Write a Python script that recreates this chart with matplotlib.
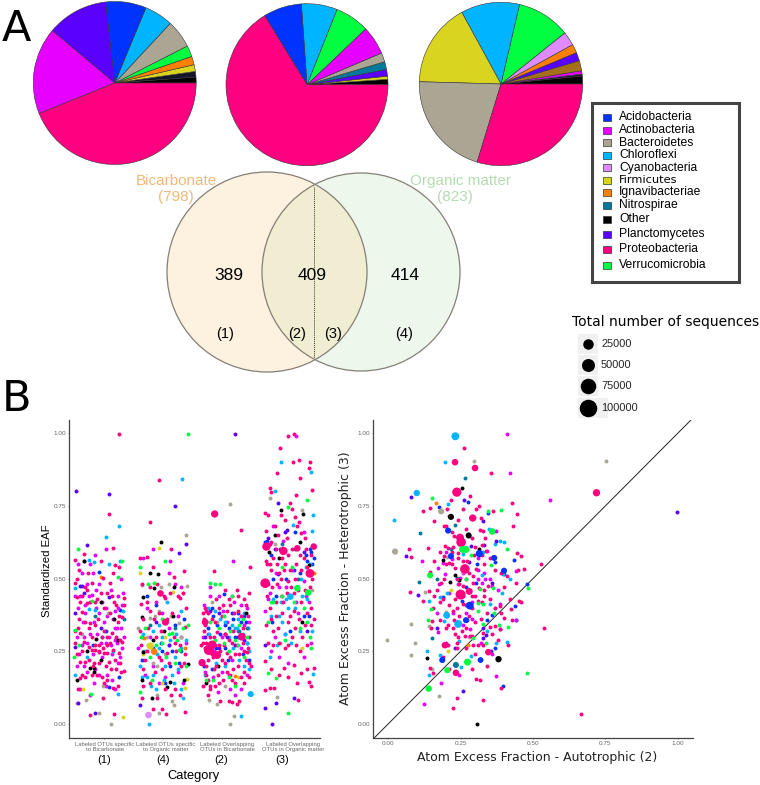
import matplotlib
matplotlib.use("Agg")
import matplotlib.pyplot as plt
from matplotlib.patches import Circle, Rectangle

plt.rcParams['font.family'] = ['Liberation Sans', 'DejaVu Sans']

W, H = 760, 785

phyla = ["Acidobacteria", "Actinobacteria", "Bacteroidetes", "Chloroflexi", "Cyanobacteria", "Firmicutes",
         "Ignavibacteriae", "Nitrospirae", "Other", "Planctomycetes", "Proteobacteria", "Verrucomicrobia"]
colors = ["#0033ff", "#e500ff", "#aaa693", "#00b4ff", "#e08aff", "#d8d420",
          "#ff7f00", "#007a99", "#000000", "#5a00ff", "#ff0080", "#00ff40"]

# pies, degrees counter clockwise from 3 o'clock
pie1_cols = ["#000000", "#14142a", "#d8d420", "#ff7f00", "#00ff40", "#aaa693",
             "#00b4ff", "#0033ff", "#5a00ff", "#e500ff", "#ff0080"]
pie1_vals = [4.2, 4.0, 4.8, 6.0, 8.0, 20.0, 20.5, 29.0, 43.5, 62.0, 158.0]
pie2_cols = ["#000000", "#d8d420", "#5a00ff", "#007a99", "#aaa693", "#e500ff",
             "#00ff40", "#00b4ff", "#0033ff", "#ff0080"]
pie2_vals = [3.8, 2.3, 4.8, 5.6, 6.5, 20.6, 24.7, 25.7, 27.5, 238.5]
pie3_cols = ["#000000", "#14142a", "#e500ff", "#a5701a", "#5a00ff", "#ff7f00",
             "#e08aff", "#00ff40", "#00b4ff", "#d8d420", "#aaa693", "#ff0080"]
pie3_vals = [5.6, 1.4, 2.4, 7.2, 6.0, 6.2, 9.9, 38.2, 41.8, 59.7, 74.6, 107.0]

venn_counts = ["389", "409", "414"]
venn_regions = ["(1)", "(2)", "(3)", "(4)"]

size_legend = [25000, 50000, 75000, 100000]

cat_ticks = [1.08, 2.01, 2.95, 4.01]
cat_labels = ["Labeled OTUs specific\nto Bicarbonate", "Labeled OTUs specific\nto Organic matter",
              "Labeled Overlapping\nOTUs in Bicarbonate", "Labeled Overlapping\nOTUs in Organic matter"]
cat_codes = ["(1)", "(4)", "(2)", "(3)"]

# left panel, (category + jitter, standardized EAF)
l_proteo = [(1.32,.998),(1.15,.722),(1.21,.604),(.76,.585),(.62,.564),(1.25,.547),(1.31,.541),(.61,.484),(.88,.484),
    (1.06,.501),(1.17,.486),(.65,.438),(.8,.417),(1.23,.421),(1.39,.432),(1.39,.409),(.72,.386),(1.08,.398),(1.17,.381),
    (1.36,.369),(1.3,.35),(.62,.32),(.7,.312),(.86,.346),(.94,.341),(1.08,.321),(1.12,.3),(1.2,.312),(1.36,.283),(.62,.278),
    (.75,.283),(.83,.265),(.88,.255),(.94,.255),(.99,.249),(1.08,.243),(1.22,.255),(1.12,.243),(1.31,.243),(.7,.214),(.78,.214),
    (1.15,.214),(1.33,.209),(1.4,.183),(.72,.169),(.7,.157),(1.04,.163),(1.13,.151),(1.21,.123),(.66,.119),(1.06,.088),(.86,.032),
    (1.23,.033),(.98,.36),(1.05,.3),(.9,.2),(.97,.17),(1.27,.19),(.8,.46),(.68,.36),(1.0,.27),
    (.64,.5),(.7,.42),(.72,.44),(.78,.47),(.82,.52),(.86,.42),(.93,.42),(.97,.43),(1.03,.45),(1.12,.45),(1.2,.44),(1.27,.41),(1.32,.37),
    (.66,.33),(.78,.35),(.83,.33),(.88,.3),(.93,.27),(1.0,.25),(1.06,.26),(1.13,.27),(1.17,.28),(1.27,.3),(1.33,.29),(.64,.24),(.73,.25),
    (.84,.22),(.92,.21),(1.0,.21),(1.1,.2),(1.18,.19),(1.25,.22),(1.35,.18),(.78,.16),(.88,.17),(1.08,.14),(1.3,.13),(.68,.53),(1.02,.56),(1.22,.52),
    (1.94,.839),(1.8,.696),(2.13,.601),(1.64,.572),(1.75,.573),(1.85,.541),(2.34,.527),(2.18,.507),(1.97,.449),(1.66,.412),
    (2.05,.432),(2.37,.398),(1.81,.39),(1.94,.381),(2.05,.35),(2.36,.335),(1.64,.321),(2.07,.243),(1.85,.05),(2.06,.034),
    (2.36,.042),(1.75,.42),(2.28,.432),(1.9,.3),(2.2,.28),(1.72,.22),(2.0,.19),(2.3,.2),(2.15,.38),(1.7,.13),(2.2,.12),(1.95,.23),
    (1.68,.48),(1.8,.47),(1.92,.48),(2.02,.44),(2.12,.45),(2.25,.44),(2.33,.45),(1.7,.36),(1.78,.33),(1.86,.36),(1.98,.32),(2.08,.36),
    (2.18,.3),(2.28,.27),(2.36,.24),(1.66,.27),(1.76,.25),(1.88,.18),(1.98,.22),(2.1,.21),(2.22,.25),(2.34,.21),(1.7,.19),(1.8,.14),
    (1.92,.09),(2.05,.12),(2.14,.1),(2.28,.1),(1.68,.09),(2.0,.05),
    (2.83,.722),(3.24,.667),(2.82,.527),(3.39,.541),(2.74,.255),(2.63,.211),(2.68,.35),(2.87,.237),(2.87,.318),(3.26,.3),(3.03,.243),
    (3.34,.249),(2.79,.272),(2.7,.28),(2.65,.28),(2.66,.32),(2.8,.23),(2.9,.27),(2.95,.22),(3.0,.31),(3.1,.28),(3.15,.24),(3.2,.2),
    (3.3,.25),(3.38,.3),(3.38,.21),(2.7,.39),(2.68,.34),(2.75,.13),(2.72,.15),(2.92,.08),(3.05,.08),(3.18,.07),(3.1,.15),(3.3,.14),
    (2.9,.14),(3.2,.44),(3.3,.43),(3.38,.45),(3.08,.41),(2.95,.37),(2.82,.3),(3.12,.19),(3.25,.37),(2.7,.2),(2.85,.43),
    (2.66,.36),(2.72,.38),(2.78,.36),(2.84,.35),(2.9,.4),(2.96,.41),(3.02,.39),(3.06,.43),(3.14,.38),(3.2,.39),(3.28,.33),(3.32,.41),
    (3.36,.37),(2.62,.27),(2.67,.26),(2.72,.22),(2.76,.3),(2.78,.24),(2.83,.27),(2.85,.2),(2.92,.25),(2.98,.27),(3.0,.21),(3.05,.29),
    (3.08,.23),(3.12,.32),(3.18,.27),(3.22,.24),(3.28,.28),(3.32,.22),(3.36,.26),(3.4,.2),(2.65,.13),(2.7,.17),(2.76,.12),(2.82,.19),
    (2.88,.17),(2.96,.15),(3.02,.18),(3.08,.17),(3.16,.14),(3.24,.16),(3.3,.18),(3.38,.16),(2.72,.1),(2.84,.13),(3.1,.075),(3.22,.08),
    (3.0,.46),(3.18,.46),(2.64,.38),(2.68,.4),
    (4.08,.998),(4,.989),(3.87,.948),(4.07,.902),(4.16,.906),(4.34,.9),(4.32,.88),(3.82,.862),(4.19,.847),(4.38,.803),(3.7,.811),
    (3.72,.796),(4.12,.786),(3.62,.725),(3.68,.719),(4.06,.738),(4.1,.713),(3.95,.7),(3.78,.68),(4.17,.696),(3.65,.662),(4.2,.656),
    (3.65,.61),(3.72,.624),(3.92,.595),(4.4,.61),(4.14,.604),(3.63,.218),(3.71,.123),(3.77,.125),(3.62,.117),(4.32,.143),(4.36,.131),
    (4.4,.192),(3.93,.192),(4.08,.203),(4.2,.174),(4.15,.083),(3.63,.484),(4.34,.518),(3.93,.53),(3.85,.52),(4.0,.49),(4.1,.5),
    (4.2,.53),(4.28,.6),(4.35,.58),(4.38,.5),(3.7,.55),(3.66,.55),(3.8,.6),(3.9,.57),(4.0,.58),(4.08,.45),(4.2,.42),(4.3,.38),
    (3.7,.4),(3.8,.37),(3.9,.38),(4.0,.35),(4.1,.33),(4.22,.3),(4.35,.34),(3.65,.34),(3.75,.32),(3.85,.28),(4.0,.27),(4.12,.27),(3.8,.42),
    (3.65,.56),(3.72,.53),(3.76,.57),(3.82,.55),(3.88,.5),(3.95,.55),(4.02,.53),(4.06,.6),(4.12,.55),(4.18,.58),(4.24,.57),(4.3,.54),
    (4.34,.47),(3.68,.48),(3.74,.47),(3.82,.48),(3.9,.44),(3.98,.45),(4.04,.47),(4.15,.46),(4.26,.46),(3.66,.44),(3.73,.36),(3.83,.33),
    (3.92,.42),(4.02,.37),(4.08,.39),(4.17,.36),(4.26,.34),(4.36,.4),(4.4,.36),(3.67,.28),(3.76,.27),(3.95,.26),(4.06,.3),(4.18,.25),
    (4.3,.27),(3.72,.19),(3.85,.17),(4.0,.16),(4.14,.14),(4.3,.19),(3.7,.62),(3.84,.65),(3.98,.64),(4.14,.68),(4.26,.64),(3.88,.72),(4.02,.76)]
l_actino = [(.8,.48),(.76,.56),(.9,.52),(1.0,.48),(1.1,.6),(.88,.444),(.78,.41),(.95,.4),(1.1,.4),(1.25,.39),(1.3,.44),(.67,.4),
    (.74,.35),(.85,.31),(1.02,.28),(1.15,.3),(1.25,.29),(1.35,.33),(.68,.24),(.75,.3),(.9,.24),(1.05,.23),(1.2,.24),(1.28,.28),
    (.65,.2),(.8,.18),(1.0,.17),(1.2,.15),(1.3,.21),(.7,.12),(.85,.1),(1.1,.13),(1.28,.33),(1.36,.26),(.95,.46),(1.18,.46),
    (1.34,.5),(.92,.35),(1.07,.35),(.62,.44),(1.36,.41),(1.25,.33),
    (.66,.55),(.73,.52),(.86,.55),(.93,.58),(.69,.44),(.77,.38),(.84,.44),(1.0,.38),(1.04,.42),(1.13,.37),(1.22,.36),(1.3,.4),(1.38,.45),
    (.65,.3),(.8,.28),(.96,.31),(1.1,.28),(1.18,.27),(1.33,.23),(.76,.2),(.94,.19),(1.12,.17),(1.25,.12),(.92,.14),(.72,.27),(1.4,.3),
    (1.7,.57),(1.85,.6),(2.1,.52),(2.2,.48),(2.3,.47),(1.75,.4),(1.9,.42),(2.0,.38),(2.1,.33),(2.25,.37),(1.68,.3),(1.8,.3),
    (2.3,.3),(2.38,.28),(1.72,.17),(1.85,.2),(2.25,.18),(2.05,.16),(2.12,.562),(1.62,.26),(1.95,.14),(2.32,.14),
    (2.75,.47),(2.9,.44),(3.1,.44),(3.12,.562),(3.25,.41),(3.35,.4),(2.72,.31),(2.95,.3),(3.2,.32),(3.38,.35),(2.66,.41),(3.02,.35),
    (2.8,.16),(3.05,.17),(3.25,.12),(3.35,.17),(3.15,.1),(2.68,.18),
    (2.76,.44),(2.96,.39),(3.14,.42),(3.3,.34),(2.82,.25),(2.94,.18),(3.1,.22),(3.24,.26),(2.64,.3),(2.88,.11),(3.08,.12),
    (4.12,.991),(3.75,.68),(3.85,.47),(4.05,.53),(4.25,.49),(4.32,.42),(3.68,.43),(3.78,.3),(3.95,.31),(4.15,.38),(4.36,.28),
    (3.62,.39),(4.0,.21),(4.25,.23),(3.72,.25),(3.85,.23),(3.7,.45),(3.96,.47),(4.12,.42),(4.28,.44),(3.8,.52),(3.92,.63),(4.24,.66)]
l_bacter = [(1.06,.131),(.79,.083),(.65,.071),(.99,.037),(1.19,0),(.72,.31),(1.14,.38),(2.37,.649),(2.39,.475),(1.67,.478),(1.8,.364),
    (2.26,.346),(2.19,.065),(2.15,.08),(1.91,.1),(1.94,.037),(2.1,.48),(1.95,.39),(2.3,.3),(1.85,.21),
    (1.76,.3),(1.92,.2),(1.7,.25),(2.14,.37),(2.32,.45),(2.04,.24),(1.62,.33),(1.88,.37),(1.98,.47),
    (3.08,.756),(3.07,0),(3.13,.028),(2.74,.083),(2.86,.069),(3.0,.13),(2.86,.35),(2.78,.42),(3.79,.619),(3.71,.776),(4.22,.734),
    (3.82,.094),(3.88,.44),(4.38,.46),(3.86,.28)]
l_chloro = [(1.31,.679),(1.1,.643),(.84,.564),(.91,.558),(1.16,.55),(1.33,.562),(.62,.467),(.83,.395),(.94,.392),(.62,.169),(1.3,.103),
    (1.05,.3),(.8,.23),(1.22,.25),(1.37,.39),(2.31,.842),(1.64,.2),(1.85,.169),(1.79,0),(2.33,.09),(2.0,.3),(1.8,.27),(2.2,.23),(1.95,.26),
    (1.75,.16),(2.15,.17),(2.3,.39),(2.1,.27),(1.9,.12),(2.25,.19),(2.38,.29),
    (1.7,.31),(1.78,.27),(1.85,.32),(1.92,.24),(2.04,.2),(2.12,.29),(2.22,.31),(2.3,.26),(1.72,.25),(1.68,.16),(1.82,.13),(2.02,.15),
    (2.18,.14),(2.3,.12),(1.95,.34),(2.08,.42),
    (2.72,.4),(3.4,.103),(3.24,.028),(3.0,.35),(3.15,.33),(3.3,.38),(2.85,.21),(3.35,.28),(3.05,.3),(3.2,.36),(3.38,.19),
    (2.74,.31),(2.84,.39),(2.92,.36),(3.1,.34),(3.18,.33),(3.28,.31),(3.36,.33),(2.78,.24),(3.0,.2),(3.22,.22),(3.3,.2),(2.68,.17),(3.12,.26),(3.38,.25),
    (3.88,.9),(4.36,.865),(3.79,.8),(4.39,.72),(4.38,.665),(4.07,.685),(4.39,.172),(4.03,.438),(3.85,.37),(4.0,.4),(4.2,.5),(3.9,.35),(4.38,.32),(3.7,.23),
    (3.76,.43),(3.88,.42),(3.96,.43),(4.1,.4),(4.22,.44),(4.3,.43),(3.72,.37),(3.94,.31),(4.04,.28),(4.18,.32),(3.82,.27),(4.34,.55),(4.28,.54)]
l_cyano = [(1.78,.031)]
l_firm = [(.74,.119),(1.37,.025),(1.94,.604),(1.65,.518),(2.17,.455),(1.81,.268),(1.99,.14),(2.39,.154),(2.36,.123),(1.7,.24),(2.05,.3),
    (3.2,.16),(4.22,.26)]
l_ignavi = [(1.02,.507),(1.71,.295),(1.87,.249),(2.36,.26),(3.15,.165),(4.4,.52)]
l_nitro = [(.93,.37),(1.4,.36),(2.2,.33),(2.3,.25),(1.8,.34),(3.22,.32),(3.35,.33),(3.9,.62),(4.15,.5),(4.1,.6)]
l_other = [(.75,.561),(1.02,.421),(1.24,.361),(1.29,.289),(.95,.291),(.81,.251),(1.03,.22),(.85,.194),(.91,.192),(.91,.178),(.65,.151),
    (1.81,.518),(1.93,.516),(1.87,.467),(2.19,.472),(1.7,.438),(1.98,.626),(1.67,.369),(2.17,.372),(1.85,.289),(2.02,.321),(1.7,.249),
    (1.67,.151),(2.08,.128),(2.12,.146),(2.34,.151),(2.4,.205),(1.84,.088),(3.33,.383),(3.0,.31),(2.7,.14),(2.88,.2),(3.88,.734),(4.23,.722),
    (3.79,.65),(4.18,.627),(3.69,.591),(4.33,.547),(4.22,.352),(3.85,.57)]
l_plancto = [(.63,.8),(1.16,.79),(.80,.614),(.69,.476),(.72,.476),(.75,.45),(1.15,.438),(.62,.381),(1.02,.329),(.61,.264),(.94,.037),(.66,.073),
    (2.2,.748),(2.38,.618),(2.27,.589),(1.65,.065),(2.1,.27),(1.9,.35),(3.15,.998),(2.9,.38),(3.3,.29),(2.68,.3),(2.76,.39),(2.9,.26),(3.02,.3),
    (3.16,.27),(3.62,.056),(3.74,0),(4.08,.091),(3.81,.071),(3.83,.759),(3.98,.668),(3.62,.27),(3.68,.64),(3.78,.6),(3.94,.66),(4.24,.59),(4.3,.32)]
l_acido = [(.99,.524),(1.32,.163),(1.33,.392),(1.15,.128),(1.1,.32),(.9,.27),(2.0,.25),(1.75,.44),(2.2,.34),(2.12,.2),
    (1.68,.22),(1.85,.26),(1.98,.28),(2.16,.25),(2.34,.36),(2.26,.21),(2.04,.14),(1.9,.41),
    (2.97,.446),(2.78,.398),(3.0,.34),(3.12,.36),(3.25,.35),(2.7,.25),(3.34,.28),(2.85,.26),(3.15,.3),(3.38,.22),
    (2.72,.33),(2.8,.37),(2.86,.34),(2.92,.31),(3.0,.26),(3.06,.33),(3.1,.38),(3.2,.3),(3.28,.24),(3.32,.35),(2.78,.19),(2.66,.2),(3.04,.22),(3.2,.38),(3.3,.37),
    (3.63,.627),(3.83,.516),(4.36,.59),(4.3,.56),(4.1,.66),(3.8,.44),(4.32,.37),(3.76,.5),(4.38,.55),
    (3.72,.58),(3.86,.6),(3.96,.5),(4.08,.53),(4.28,.58),(4.34,.6),(4.4,.57),(3.74,.35),(4.24,.37),(4.02,.32),(3.66,.63),(4.18,.52)]
l_verruco = [(.67,.602),(1.36,.561),(1.29,.507),(.88,.423),(.62,.323),(.68,.272),(.6,.229),(.87,.103),(1.65,.541),(2.05,.561),(1.64,.111),
    (1.87,.484),(2.15,.312),(2.26,.255),(2.4,.34),(2.4,.998),(1.8,.23),(2.0,.36),(2.37,.2),
    (1.72,.33),(1.9,.27),(2.0,.28),(2.1,.31),(2.24,.29),(2.32,.33),(1.84,.15),(2.06,.23),(1.66,.3),(1.78,.48),(2.2,.21),
    (2.75,.484),(2.83,.482),(2.92,.482),(2.75,.27),(3.1,.44),(2.98,.37),(3.05,.25),(3.2,.27),(2.8,.15),(3.15,.13),(3.35,.3),
    (2.76,.35),(2.9,.33),(2.98,.28),(3.08,.32),(3.22,.34),(3.28,.36),(2.84,.29),(2.76,.28),(3.16,.29),(2.7,.15),(3.05,.16),(3.3,.23),
    (4.0,.745),(4.3,.77),(4.0,.037),(3.67,.174),(3.81,.157),(4.14,.467),(4.31,.452),(3.72,.42),(4.25,.4),(4.35,.26),(3.95,.29),
    (3.68,.35),(3.76,.42),(3.9,.44),(4.08,.42),(4.18,.33),(4.34,.3),(4.3,.35),(3.9,.54),(4.05,.54)]

# a few larger OTUs, sequence count in thousands
l_big_x = [2.74, 2.79, 2.63, 2.68, 2.87, 3.26, 2.83, 3.63, 4.34, 3.65, 3.92, 4.14, 4.4, 2.05, 1.97, 4.14, 4.31, 4.03, 1.81, 1.87, 3.4, 1.78]
l_big_y = [.255, .272, .211, .35, .237, .3, .722, .484, .518, .61, .595, .604, .61, .35, .449, .467, .452, .438, .268, .249, .103, .031]
l_big_n = [60, 40, 25, 20, 30, 30, 25, 50, 40, 35, 35, 18, 18, 22, 18, 18, 18, 18, 25, 18, 14, 18]
l_big_phylum = ["Proteobacteria"] * 15 + ["Verrucomicrobia"] * 2 + ["Chloroflexi", "Firmicutes", "Ignavibacteriae", "Chloroflexi", "Cyanobacteria"]

# right panel, (autotrophic, heterotrophic)
r_proteo = [(.262,.948),(.355,.863),(.119,.731),(.145,.742),(.202,.739),(.16,.699),(.194,.68),(.2,.682),(.21,.716),(.281,.785),(.429,.76),
    (.445,.721),(.432,.68),(.315,.748),(.305,.739),(.363,.733),(.32,.707),(.336,.641),(.317,.668),(.328,.665),(.228,.645),(.137,.605),
    (.071,.6),(.079,.573),(.196,.611),(.208,.605),(.225,.607),(.193,.577),(.211,.554),(.219,.551),(.231,.537),(.242,.588),(.271,.56),
    (.296,.582),(.294,.508),(.305,.534),(.323,.617),(.338,.594),(.325,.582),(.445,.588),(.458,.579),(.47,.534),(.447,.531),(.44,.485),
    (.526,.551),(.452,.422),(.46,.42),(.424,.396),(.386,.407),(.537,.331),(.4,.365),(.389,.382),(.426,.356),(.351,.334),(.369,.336),
    (.386,.325),(.328,.313),(.265,.302),(.288,.302),(.256,.319),(.225,.331),(.208,.339),(.156,.399),(.142,.456),(.145,.523),(.076,.454),
    (.119,.422),(.239,.399),(.225,.39),(.258,.411),(.288,.439),(.311,.424),(.323,.419),(.331,.439),(.346,.474),(.315,.468),(.294,.485),
    (.257,.474),(.237,.497),(.246,.482),(.193,.5),(.183,.485),(.228,.359),(.246,.371),(.28,.371),(.271,.359),(.179,.359),(.153,.354),
    (.147,.331),(.208,.273),(.239,.277),(.239,.262),(.282,.302),(.294,.273),(.311,.272),(.326,.27),(.414,.271),(.144,.193),(.156,.176),
    (.305,.156),(.317,.151),(.391,.125),(.239,.089),(.225,.055),(.328,.082),(.664,.035),(.217,.771),
    (.17,.46),(.19,.43),(.21,.41),(.23,.43),(.26,.44),(.27,.41),(.29,.4),(.3,.44),(.33,.46),(.35,.43),(.37,.4),(.28,.52),(.26,.56),(.24,.57),
    (.22,.59),(.2,.55),(.18,.59),(.16,.56),(.3,.61),(.33,.55),(.35,.57),(.37,.53),(.39,.52),(.41,.51),(.29,.64),(.27,.67),(.24,.7),(.22,.66),
    (.26,.74),(.18,.42),(.16,.44),(.2,.33),(.23,.31),(.27,.33),(.3,.35),(.32,.36),(.34,.38),(.36,.31),(.24,.3),(.27,.26),(.3,.24),(.19,.23),
    (.21,.19),(.29,.19),(.34,.2),(.38,.29),(.42,.43),(.4,.47)]
r_actino = [(.409,.997),(.42,.863),(.56,.769),(.116,.562),(.171,.537),(.219,.568),(.191,.554),(.196,.514),(.257,.519),(.336,.497),(.323,.485),
    (.36,.474),(.372,.665),(.443,.527),(.248,.502),(.441,.357),(.171,.317),(.282,.327),(.289,.362),(.223,.382),(.204,.371),(.386,.327),
    (.374,.165),(.181,.142),(.124,.07),(.245,.169),(.177,.483),(.386,.411),(.343,.596),
    (.21,.45),(.24,.48),(.27,.5),(.31,.5),(.33,.52),(.35,.5),(.38,.46),(.2,.59),(.25,.62),(.31,.57),(.17,.38),(.2,.28),(.26,.34),(.32,.28),
    (.36,.24),(.29,.42),(.27,.38),(.31,.53)]
r_bacter = [(.297,.904),(.753,.903),(.183,.731),(.024,.593),(.202,.574),(.129,.455),(-.005,.288),(.078,.344),(.094,.279),(.079,.238),
    (.141,.336),(.15,.19),(.176,.096),(.2,.384)]
r_chloro = [(.197,.9),(.022,.701),(.208,.756),(.259,.586),(.328,.592),(.323,.511),(.386,.628),(.4,.625),(.349,.67),(.369,.62),(.397,.514),
    (.42,.497),(.394,.451),(.179,.436),(.204,.451),(.142,.423),(.351,.411),(.369,.399),(.193,.355),(.34,.319),(.246,.285),(.371,.279),
    (.412,.283),(.134,.252),(.179,.236),(.141,.17),(.25,.196),(.287,.233)]
r_cyano = [(.257,.522),(.28,.3)]
r_firm = [(.216,.459),(.208,.252)]
r_ignavi = [(.164,.761),(.277,.271)]
r_nitro = [(.265,.847),(.231,.683),(.218,.6),(.11,.657),(.108,.489),(.17,.5),(.153,.294),(.237,.502)]
r_other = [(.256,.81),(.313,.6),(.191,.565),(.231,.513),(.246,.494),(.214,.487),(.135,.227),(.308,0)]
r_plancto = [(.079,.779),(.997,.729),(.062,.579),(.102,.445),(.261,.769),(.328,.699),(.374,.628),(.331,.617),(.286,.611),(.28,.556),(.357,.485),
    (.328,.331),(.338,.305),(.328,.296),(.231,.261),(.17,.331),(.259,.113)]
r_acido = [(.177,.745),(.277,.762),(.346,.725),(.308,.551),(.369,.556),(.435,.565),(.4,.514),(.302,.485),(.48,.482),(.36,.376),(.34,.356),
    (.443,.359),(.437,.407),(.369,.26),(.354,.251),(.395,.13),(.191,.436),(.254,.424),(.269,.47)]
r_verruco = [(.15,.776),(.346,.731),(.389,.735),(.412,.6),(.285,.582),(.354,.548),(.269,.497),(.363,.468),(.483,.466),(.318,.465),(.31,.416),
    (.326,.413),(.31,.39),(.366,.382),(.147,.394),(.137,.359),(.414,.334),(.382,.34),(.328,.343),(.338,.279),(.294,.296),(.478,.176)]

r_big_x = [.719, .231, .3, .292, .237, .248, .252, .265, .25, .28, .234, .196, .346,
           .232, .099, .242, .202, .187, .207, .217, .315, .366, .4, .282, .269, .319,
           .257, .269, .359, .145, .274, .204, .14, .183, .024, .217, .278, .381, .234]
r_big_y = [.795, .9, .88, .708, .797, .641, .625, .533, .445, .456, .176, .271, .247,
           .989, .794, .344, .374, .22, .665, .577, .586, .571, .527, .407, .357, .22,
           .6, .6, .662, .511, .213, .185, .122, .731, .593, .712, .648, .223, .203]
r_big_n = [25, 18, 18, 25, 45, 30, 50, 50, 55, 22, 18, 18, 18,
           30, 16, 30, 20, 14, 14, 14, 25, 14, 14, 30, 14, 12,
           22, 22, 18, 14, 22, 14, 18, 14, 14, 14, 14, 16, 14]
r_big_phylum = ["Proteobacteria"] * 13 + ["Chloroflexi"] * 4 + ["Acidobacteria"] * 9 + ["Verrucomicrobia"] * 7 \
    + ["Bacteroidetes"] * 2 + ["Other"] * 3 + ["Nitrospirae"]


def px_axes(x0, y0, x1, y1, **kw):
    return fig.add_axes([x0 / W, 1 - y1 / H, (x1 - x0) / W, (y1 - y0) / H], **kw)


def dot_size(n):
    return 8 + 0.8 * n


def draw_pie(cx, cy, r, cols, vals):
    ax = px_axes(cx - r, cy - r, cx + r, cy + r)
    ax.pie(vals, colors=cols, startangle=0, counterclock=True, radius=1,
           wedgeprops=dict(edgecolor="#333333", linewidth=0.4))
    ax.set_xlim(-1, 1)
    ax.set_ylim(-1, 1)
    ax.set_aspect("equal")
    ax.patch.set_alpha(0)


def style_axes(ax):
    for s in ["top", "right"]:
        ax.spines[s].set_visible(False)
    for s in ["left", "bottom"]:
        ax.spines[s].set_color("#444444")
        ax.spines[s].set_linewidth(0.9)
    ax.tick_params(length=1, width=0.5, color="#555555", labelsize=4.6, labelcolor="#666666", pad=1)
    ax.set_yticks([0, 0.25, 0.5, 0.75, 1.0])
    ax.set_yticklabels(["0.00", "0.25", "0.50", "0.75", "1.00"])


def scatter_group(ax, group, big_x, big_y, big_n, big_phylum):
    for name, pts in group:
        xs = [p[0] for p in pts]
        ys = [p[1] for p in pts]
        ax.scatter(xs, ys, s=8, color=colors[phyla.index(name)], linewidths=0, zorder=3)
    ax.scatter(big_x, big_y, s=[dot_size(n) for n in big_n], color=[colors[phyla.index(n)] for n in big_phylum],
               linewidths=0, zorder=4)


fig = plt.figure(figsize=(W / 100, H / 100), dpi=100)

# overlay in pixel units for the venn and the hand made legends
bg = fig.add_axes([0, 0, 1, 1])
bg.set_xlim(0, W)
bg.set_ylim(H, 0)
bg.axis("off")

draw_pie(114.7, 83, 81.5, pie1_cols, pie1_vals)
draw_pie(307, 84.7, 81, pie2_cols, pie2_vals)
draw_pie(501, 84, 81.7, pie3_cols, pie3_vals)

bg.text(2, 29, "A", fontsize=31, family="DejaVu Sans", va="center", ha="left", color="black")
bg.text(2, 399, "B", fontsize=31, family="DejaVu Sans", va="center", ha="left", color="black")

# venn
left = Circle((267, 272), 100, facecolor="#fdf1e0", edgecolor="none")
right = Circle((361, 272), 99, facecolor="#edf7ec", edgecolor="none")
bg.add_patch(left)
bg.add_patch(right)
overlap = Circle((361, 272), 99, facecolor="#f0edd2", edgecolor="none")
bg.add_patch(overlap)
overlap.set_clip_path(left)
bg.add_patch(Circle((267, 272), 100, fill=False, edgecolor="#857f76", linewidth=0.9))
bg.add_patch(Circle((361, 272), 99, fill=False, edgecolor="#857f76", linewidth=0.9))
bg.plot([314, 314], [187, 358], color="#333333", linewidth=0.7, linestyle=(0, (1, 1)))
bg.text(176.5, 181, "Bicarbonate", color="#f0b878", fontsize=11, ha="center", va="center")
bg.text(176, 197, "(798)", color="#f0b878", fontsize=11, ha="center", va="center")
bg.text(460.7, 181, "Organic matter", color="#b5dcb0", fontsize=11, ha="center", va="center")
bg.text(455, 197, "(823)", color="#b5dcb0", fontsize=11, ha="center", va="center")
for xp, t in zip([229, 312, 405], venn_counts):
    bg.text(xp, 276, t, fontsize=12.5, ha="center", va="center")
for xp, t in zip([225, 297, 333, 404], venn_regions):
    bg.text(xp, 334, t, fontsize=10.5, ha="center", va="center")

# phylum legend
bg.add_patch(Rectangle((591.5, 102.5), 147, 179, facecolor="white", edgecolor="#444444", linewidth=2.2))
leg_y = [117, 130, 142.5, 155, 167.5, 180, 192.5, 205, 219.5, 234, 249.5, 265.5]
for name, c, yp in zip(phyla, colors, leg_y):
    bg.add_patch(Rectangle((603, yp - 3.5), 8, 7, facecolor=c, edgecolor="#333333", linewidth=0.5))
    fam = "DejaVu Sans" if name == "Firmicutes" else "Liberation Sans"
    fs = 8.2 if name == "Firmicutes" else 8.7
    bg.text(619, yp, name, fontsize=fs, family=fam, va="center", ha="left")

# size legend
bg.text(572, 322, "Total number of sequences", fontsize=10, family="DejaVu Sans", va="center", ha="left")
size_y = [344, 365, 386, 408]
size_d = [10.5, 13, 15.5, 17.5]
for i, (n, yp, d) in enumerate(zip(size_legend, size_y, size_d)):
    bg.add_patch(Rectangle((578, yp - 10), 30 if i == 3 else 20, 20, facecolor="#f0f0f0", edgecolor="none"))
    bg.scatter([588], [yp], s=(d * 0.72) ** 2, color="black", linewidths=0, zorder=3)
    bg.text(601, yp, str(n), fontsize=7.9, va="center", ha="left", color="#222222")

# panel B, left
ax1 = px_axes(69, 420, 320, 738)
ax1.set_xlim(0.52, 4.5)
ax1.set_ylim(-0.048, 1.045)
style_axes(ax1)
left_group = [("Acidobacteria", l_acido), ("Actinobacteria", l_actino), ("Bacteroidetes", l_bacter), ("Chloroflexi", l_chloro),
              ("Cyanobacteria", l_cyano), ("Firmicutes", l_firm), ("Ignavibacteriae", l_ignavi), ("Nitrospirae", l_nitro),
              ("Other", l_other), ("Planctomycetes", l_plancto), ("Proteobacteria", l_proteo), ("Verrucomicrobia", l_verruco)]
scatter_group(ax1, left_group, l_big_x, l_big_y, l_big_n, l_big_phylum)
ax1.set_xticks(cat_ticks)
ax1.set_xticklabels([])
for xp, t in zip([105, 166, 227, 293], cat_labels):
    bg.text(xp, 747, t, fontsize=4.2, ha="center", va="center", color="#666666", linespacing=1.15)
for xp, t in zip([104, 163, 221, 282], cat_codes):
    bg.text(xp, 760, t, fontsize=8, ha="center", va="center")
bg.text(194, 776, "Category", fontsize=9.3, ha="center", va="center")
bg.text(47, 571, "Standardized EAF", fontsize=8.2, rotation=90, ha="center", va="center")

# panel B, right
ax2 = px_axes(373, 420, 693, 738)
ax2.set_xlim(-0.052, 1.052)
ax2.set_ylim(-0.048, 1.045)
style_axes(ax2)
right_group = [("Acidobacteria", r_acido), ("Actinobacteria", r_actino), ("Bacteroidetes", r_bacter), ("Chloroflexi", r_chloro),
               ("Cyanobacteria", r_cyano), ("Firmicutes", r_firm), ("Ignavibacteriae", r_ignavi), ("Nitrospirae", r_nitro),
               ("Other", r_other), ("Planctomycetes", r_plancto), ("Proteobacteria", r_proteo), ("Verrucomicrobia", r_verruco)]
scatter_group(ax2, right_group, r_big_x, r_big_y, r_big_n, r_big_phylum)
ax2.plot([-0.052, 1.06], [-0.052, 1.06], color="#222222", linewidth=0.7, zorder=2)
ax2.set_xticks([0, 0.25, 0.5, 0.75, 1.0])
ax2.set_xticklabels(["0.00", "0.25", "0.50", "0.75", "1.00"])
bg.text(345, 578, "Atom Excess Fraction - Heterotrophic (3)", fontsize=9, family="DejaVu Sans", rotation=90,
        ha="center", va="center", color="#222222")
bg.text(537, 757, "Atom Excess Fraction - Autotrophic (2)", fontsize=9, family="DejaVu Sans",
        ha="center", va="center", color="#222222")

fig.savefig("out.png", dpi=100)
